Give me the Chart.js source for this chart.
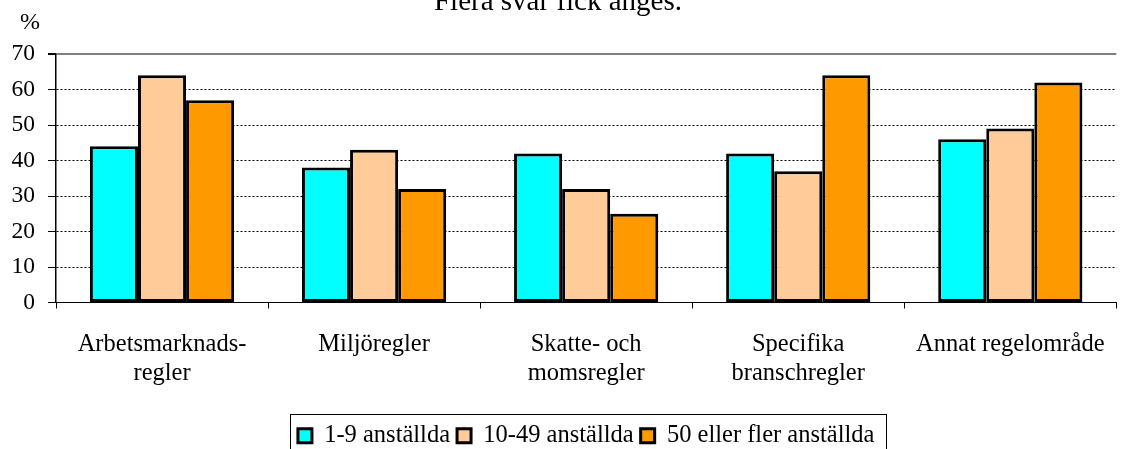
<!DOCTYPE html>
<html lang="sv">
<head>
<meta charset="utf-8">
<title>Regelområden</title>
<script src="https://cdn.jsdelivr.net/npm/chart.js@4"></script>
<style>
  html, body { margin: 0; padding: 0; background: #fff; overflow: hidden; }
  canvas { display: block; }
</style>
</head>
<body>
<canvas id="regelChart" width="1126" height="470"></canvas>
<script>
// Data
const kategorier = [
  ['Arbetsmarknads-', 'regler'],
  'Miljöregler',
  ['Skatte- och', 'momsregler'],
  ['Specifika', 'branschregler'],
  'Annat regelområde'
];
const serieNamn = ['1-9 anställda', '10-49 anställda', '50 eller fler anställda'];
const sma = [44, 38, 42, 42, 46];
const medel = [64, 43, 32, 37, 49];
const stora = [57, 32, 25, 64, 62];
const yTicks = [0, 10, 20, 30, 40, 50, 60, 70];
const titel = 'Flera svar fick anges.';
const enhet = '%';

const font = '"Liberation Serif", "Times New Roman", serif';

// Titel, %-etikett och ram runt förklaringen
const extraText = {
  id: 'extraText',
  afterDraw(chart) {
    const { ctx, chartArea, legend } = chart;
    ctx.save();
    ctx.fillStyle = '#000';
    ctx.textAlign = 'center';
    ctx.textBaseline = 'alphabetic';
    ctx.font = '29px ' + font;
    ctx.fillText(titel, chart.width / 2 - 5, chartArea.top - 44);

    ctx.font = '24px ' + font;
    ctx.textBaseline = 'middle';
    ctx.fillText(enhet, chartArea.left - 26, chartArea.top - 31);

    const boxes = legend.legendHitBoxes;
    if (boxes && boxes.length) {
      const last = boxes[boxes.length - 1];
      const left = Math.round(boxes[0].left - 8);
      const right = Math.round(last.left + last.width + 12);
      const top = Math.round(boxes[0].top - 10);
      ctx.strokeStyle = '#000';
      ctx.lineWidth = 1;
      ctx.strokeRect(left + 0.5, top + 0.5, right - left, 80);
    }
    ctx.restore();
  }
};

const ctx = document.getElementById('regelChart').getContext('2d');
new Chart(ctx, {
  type: 'bar',
  data: {
    labels: kategorier,
    datasets: [
      { label: serieNamn[0], data: sma, backgroundColor: '#00FFFF' },
      { label: serieNamn[1], data: medel, backgroundColor: '#FFCC99' },
      { label: serieNamn[2], data: stora, backgroundColor: '#FF9900' }
    ].map(d => ({ ...d, borderColor: '#000', borderWidth: 3, borderSkipped: false,
                  categoryPercentage: 0.68, barPercentage: 1 }))
  },
  options: {
    responsive: false,
    animation: false,
    devicePixelRatio: 1,
    layout: { padding: { top: 54, right: 5, bottom: 12, left: 0 } },
    plugins: {
      tooltip: { enabled: false },
      legend: {
        position: 'bottom',
        fullSize: false,
        labels: {
          color: '#000',
          font: { family: font, size: 24.5 },
          boxWidth: 14,
          boxHeight: 14,
          padding: 7
        }
      }
    },
    scales: {
      x: {
        afterFit: s => { s.height = 114; },
        grid: { offset: true, drawOnChartArea: false, drawTicks: true, tickLength: 6, color: '#000' },
        border: { color: '#000', width: 1 },
        ticks: {
          color: '#000',
          padding: 21,
          maxRotation: 0,
          autoSkip: false,
          font: { family: font, size: 24.5, lineHeight: 1.2 }
        }
      },
      y: {
        min: 0,
        max: 70,
        afterFit: s => { s.width = 56; },
        afterBuildTicks: s => { s.ticks = yTicks.map(v => ({ value: v })); },
        grid: {
          color: c => (c.tick && c.tick.value === 70 ? '#808080' : '#000'),
          lineWidth: c => (c.tick && c.tick.value === 70 ? 2 : 1),
          tickLength: 8,
          tickColor: '#000',
          tickBorderDash: []
        },
        border: {
          color: '#000',
          width: 1.5,
          dash: c => (c.tick && (c.tick.value === 70 || c.tick.value === 0) ? [] : [2, 2])
        },
        ticks: {
          color: '#000',
          padding: 13,
          font: { family: font, size: 23.5 }
        }
      }
    }
  },
  plugins: [extraText]
});
</script>
</body>
</html>
